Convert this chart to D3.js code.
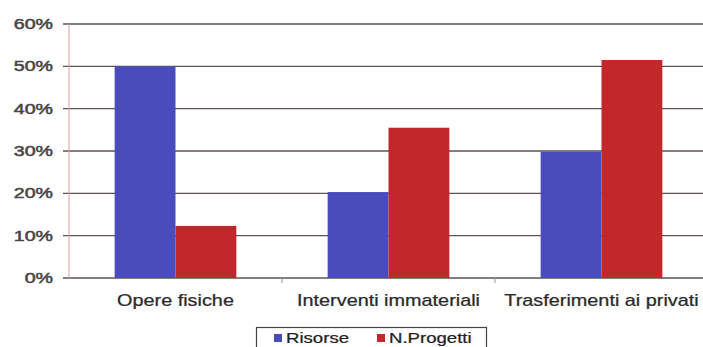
<!DOCTYPE html>
<html><head><meta charset="utf-8">
<script src="https://cdn.jsdelivr.net/npm/d3@7"></script>
<style>body{margin:0;background:#fff;}svg{display:block;font-family:"Liberation Sans",Arial,sans-serif;}</style>
</head><body><svg id="c" width="703" height="347"></svg>
<script>
const categories = ["Opere fisiche", "Interventi immateriali", "Trasferimenti ai privati"];
const seriesNames = ["Risorse", "N.Progetti"];
const risorse = [0.50, 0.203, 0.298];
const progetti = [0.123, 0.355, 0.515];
const yTicks = [0, 0.1, 0.2, 0.3, 0.4, 0.5, 0.6];
const colors = ["#4a4cbc", "#c0282b"];

const svg = d3.select("#c");
const m = {left: 69, right: -5, top: 24, bottom: 69};
const W = 703, H = 347;
const x0 = d3.scaleBand().domain(categories).range([m.left, W - m.right]).paddingInner(0).paddingOuter(0);
const x1 = d3.scaleBand().domain(seriesNames).range([0, x0.bandwidth()]).paddingOuter(0.75).paddingInner(0);
const y = d3.scaleLinear().domain([0, 0.6]).range([H - m.bottom, m.top]);

// gridlines
svg.append("g").selectAll("line").data(yTicks).join("line")
  .attr("x1", m.left - 6).attr("x2", W).attr("y1", d => y(d)).attr("y2", d => y(d))
  .attr("stroke", "#5e5252").attr("stroke-width", 1.3);

// y axis line
svg.append("line").attr("x1", m.left).attr("x2", m.left).attr("y1", y(0.6)).attr("y2", y(0))
  .attr("stroke", "#d8a0a0").attr("stroke-width", 1);

// y labels (horizontally stretched like the scan)
svg.append("g").selectAll("text").data(yTicks).join("text")
  .attr("transform", d => `translate(53,${y(d)}) scale(1.4,1)`)
  .attr("dy", "0.36em").attr("text-anchor", "end")
  .attr("font-size", 14).attr("fill", "#4a4444").attr("stroke", "#4a4444").attr("stroke-width", 0.5)
  .text(d3.format(".0%"));

// bars
const data = categories.map((c, i) => ({c, vals: [risorse[i], progetti[i]]}));
const g = svg.append("g").selectAll("g").data(data).join("g")
  .attr("transform", d => `translate(${x0(d.c)},0)`);
g.selectAll("rect").data(d => d.vals.map((v, j) => ({s: seriesNames[j], v, j}))).join("rect")
  .attr("x", d => x1(d.s)).attr("width", x1.bandwidth())
  .attr("y", d => y(d.v)).attr("height", d => y(0) - y(d.v))
  .attr("fill", d => colors[d.j]);

// category ticks
svg.append("g").selectAll("line").data(categories.slice(1)).join("line")
  .attr("x1", d => x0(d)).attr("x2", d => x0(d)).attr("y1", y(0)).attr("y2", y(0) + 5)
  .attr("stroke", "#999");

// category labels
svg.append("g").selectAll("text").data(categories).join("text")
  .attr("transform", d => `translate(${x0(d) + x0.bandwidth() / 2},306) scale(1.24,1)`)
  .attr("text-anchor", "middle")
  .attr("font-size", 16).attr("fill", "#2a2a2a").attr("stroke", "#2a2a2a").attr("stroke-width", 0.25).text(d => d);

// legend
const lg = svg.append("g");
lg.append("rect").attr("x", 256.5).attr("y", 327.5).attr("width", 230).attr("height", 24)
  .attr("fill", "#fff").attr("stroke", "#444").attr("stroke-width", 1.2);
const lx = [274, 377];
seriesNames.forEach((s, i) => {
  lg.append("rect").attr("x", lx[i]).attr("y", 334).attr("width", 8).attr("height", 8).attr("fill", colors[i]);
  lg.append("text").attr("transform", `translate(${lx[i] + 12},342.5) scale(1.2,1)`)
    .attr("font-size", 15.5).attr("fill", "#222").attr("stroke", "#222").attr("stroke-width", 0.25).text(s);
});
</script></body></html>
